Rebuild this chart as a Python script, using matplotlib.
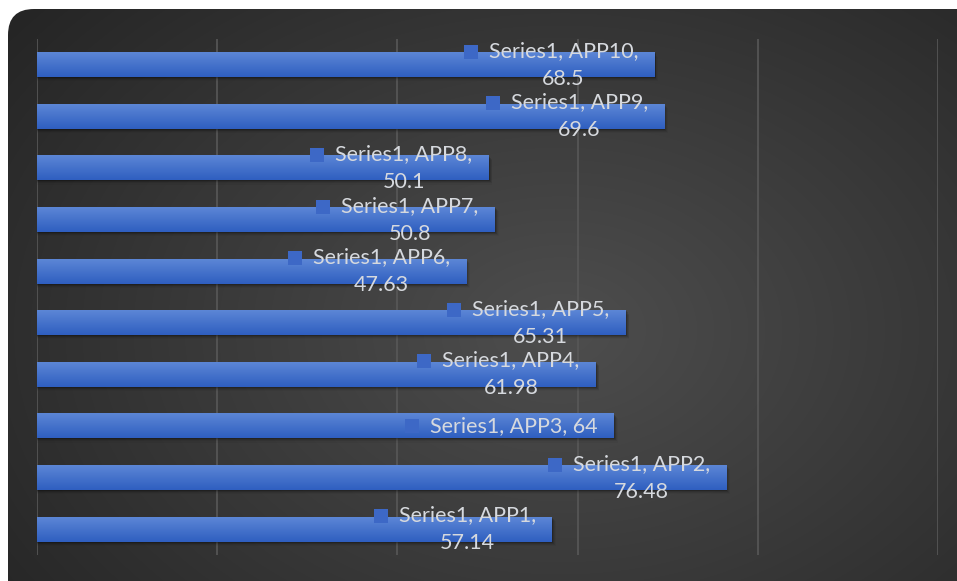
import numpy as np
import matplotlib
matplotlib.use("Agg")
from matplotlib import pyplot as plt
from matplotlib.patches import FancyBboxPatch, Rectangle

categories = ["APP1", "APP2", "APP3", "APP4", "APP5", "APP6", "APP7", "APP8", "APP9", "APP10"]
values = [57.14, 76.48, 64, 61.98, 65.31, 47.63, 50.8, 50.1, 69.6, 68.5]
series_name = "Series1"
x_ticks = [0, 20, 40, 60, 80, 100]

W, H = 957, 581
fig = plt.figure(figsize=(W / 100, H / 100), dpi=100)
fig.patch.set_facecolor("white")

# background: rounded dark card with radial gradient
bg = fig.add_axes([0, 0, 1, 1])
bg.set_xlim(0, W)
bg.set_ylim(H, 0)
bg.axis("off")
yy, xx = np.mgrid[0:H, 0:W]
r = np.sqrt(((xx - 560) / 700.0) ** 2 + ((yy - 330) / 500.0) ** 2)
r = np.clip(r, 0, 1)
light = np.array([0x4e, 0x4e, 0x4e]) / 255.0
dark = np.array([0x25, 0x25, 0x25]) / 255.0
img = light[None, None, :] * (1 - r[..., None]) + dark[None, None, :] * r[..., None]
im = bg.imshow(img, extent=(0, W, H, 0), aspect="auto", interpolation="bilinear")
card = FancyBboxPatch((8, 9), W + 40, H + 40, boxstyle="round,pad=0,rounding_size=26",
                      facecolor="none", edgecolor="none", transform=bg.transData)
bg.add_patch(card)
im.set_clip_path(card)

ax = fig.add_axes([37 / W, (H - 555) / H, (938 - 37) / W, (555 - 39) / H])
ax.patch.set_alpha(0)
ypos = np.arange(len(categories))
bar_h = 0.48
ax.set_xlim(0, 100)
ax.set_ylim(-0.5, len(categories) - 0.5)

for t in x_ticks:
    ax.axvline(t, color="#585858", lw=1.2, zorder=1)

grad = np.linspace(0, 1, 50)[:, None]
top_c = np.array([0x5c, 0x86, 0xd6]) / 255.0
bot_c = np.array([0x2f, 0x5f, 0xc0]) / 255.0
bar_img = top_c[None, None, :] * (1 - grad[..., None]) + bot_c[None, None, :] * grad[..., None]

for y, v in zip(ypos, values):
    # soft shadow under the bar
    for k, a in enumerate([0.18, 0.12, 0.07, 0.04]):
        ax.add_patch(Rectangle((0, y - bar_h / 2 - 0.02 - 0.02 * k), v + 0.15 + 0.1 * k, bar_h,
                               facecolor="black", alpha=a, lw=0, zorder=2))
    ax.imshow(bar_img, extent=(0, v, y - bar_h / 2, y + bar_h / 2), origin="upper",
              aspect="auto", zorder=3, interpolation="bilinear")

ax.set_xlim(0, 100)
ax.set_ylim(-0.5, len(categories) - 0.5)
ax.set_xticks([])
ax.set_yticks([])
for s in ax.spines.values():
    s.set_visible(False)

texts = []
for y, v, c in zip(ypos, values, categories):
    label = f"{series_name}, {c}, {v:g}"
    if len(label) > 18:
        label = f"{series_name}, {c},\n{v:g}"
    t = ax.annotate(label, (v, y), xytext=(-16, 0), textcoords="offset pixels",
                    ha="right", va="center", multialignment="center", linespacing=1.5,
                    color="#d6d9de", fontsize=15.5, family=["Lato", "DejaVu Sans"], zorder=5)
    texts.append(t)

fig.canvas.draw()
renderer = fig.canvas.get_renderer()
for t in texts:
    bb = t.get_window_extent(renderer)
    nlines = t.get_text().count("\n") + 1
    cy = bb.y1 - 11 if nlines > 1 else (bb.y0 + bb.y1) / 2
    size = 14
    x1 = bb.x0 - 11
    fig.patches.append(Rectangle((x1 - size, cy - size / 2), size, size,
                                 transform=None, facecolor="#3d68c6", edgecolor="none",
                                 zorder=6, figure=fig))

fig.savefig("out.png", dpi=100)
